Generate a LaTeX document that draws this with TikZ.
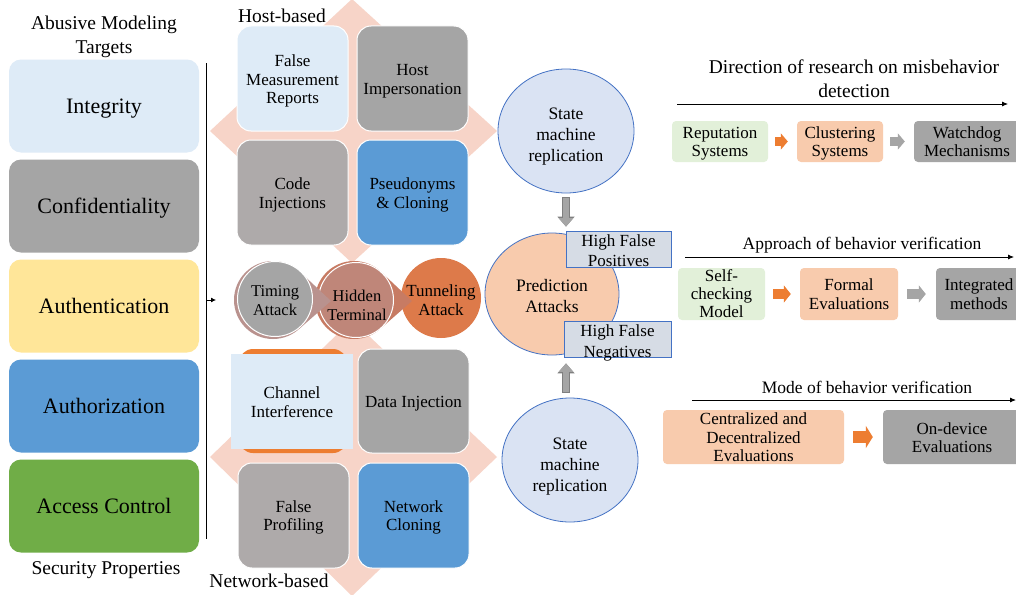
\documentclass[tikz,border=0pt]{standalone}
\usepackage{fontspec}
\setmainfont{Liberation Serif}
\usetikzlibrary{arrows.meta,calc,shapes.geometric}
\definecolor{lblue}{HTML}{DEEBF7}
\definecolor{mgray}{HTML}{A5A5A5}
\definecolor{dgray}{HTML}{7F7F7F}
\definecolor{wgray}{HTML}{AEAAAA}
\definecolor{yel}{HTML}{FFE699}
\definecolor{blu}{HTML}{5B9BD5}
\definecolor{grn}{HTML}{70AD47}
\definecolor{pinkbg}{HTML}{F7D4C8}
\definecolor{peach}{HTML}{F8CBAD}
\definecolor{lgreen}{HTML}{E2F0D9}
\definecolor{orng}{HTML}{ED7D31}
\definecolor{ellblue}{HTML}{DAE3F3}
\definecolor{bord}{HTML}{4472C4}
\definecolor{hfbox}{HTML}{D6DCE5}
\definecolor{tchev}{HTML}{B9928E}
\definecolor{hchev}{HTML}{C77B63}
\definecolor{hcirc}{HTML}{BF8679}
\definecolor{tunn}{HTML}{DD7A4A}
\newcommand\myTopS{\rule{0pt}{0.89em}}
\newcommand\myBotS{\rule[-0.22em]{0pt}{0.22em}}
\tikzset{
  every node/.append style={execute at begin node=\myTopS, execute at end node=\myBotS},
  prop/.style={rectangle, rounded corners=12, minimum width=190, minimum height=93, inner sep=0,
    font=\fontsize{22}{24}\selectfont},
  ttl/.style={align=center, inner sep=0, font=\fontsize{19.5}{23.5}\selectfont},
  ttlb/.style={align=center, inner sep=0, font=\fontsize{17.5}{20}\selectfont},
  cbox/.style={rectangle, rounded corners=14, minimum width=111, minimum height=105, inner sep=0,
    draw=white, line width=1},
  ctext/.style={align=center, inner sep=0, font=\fontsize{17}{18.8}\selectfont},
  circ/.style={circle, minimum size=75, inner sep=0, draw=white, line width=1},
  circt/.style={align=center, inner sep=0, font=\fontsize{16.5}{19.3}\selectfont},
  ell/.style={ellipse, minimum width=136, minimum height=124, inner sep=0, draw=bord, line width=0.8},
  ellt/.style={align=center, inner sep=0, font=\fontsize{17.5}{21}\selectfont},
  hf/.style={rectangle, minimum width=105, minimum height=36, inner sep=0, draw=bord, line width=1,
    fill=hfbox},
  hft/.style={align=center, inner sep=0, font=\fontsize{17}{20.3}\selectfont},
  fbox/.style={rectangle, rounded corners=4, inner sep=0},
  ftext/.style={align=center, inner sep=0, font=\fontsize{17}{18.4}\selectfont},
  garrowo/.style={line width=7.6, draw=dgray, -{Triangle[width=16.6,length=10]}},
  garrow/.style={line width=5.6, draw=mgray, -{Triangle[width=14,length=8.4]}},
  oarr/.style={draw=orng, -{Triangle[width=#1,length=7]}},
  grarr/.style={draw=mgray, -{Triangle[width=#1,length=7]}},
  thin/.style={line width=0.8, -{Latex[length=6,width=5]}}
}
\begin{document}
\begin{tikzpicture}[x=1pt,y=-1pt]
\useasboundingbox (0,0) rectangle (1016,594);
\fill[white] (0,0) rectangle (1016,594);
\clip (0,0) rectangle (1016,594);

% left column
\node[ttl] (abus) at (104,37) {Abusive Modeling\\Targets};
\node[prop, fill=lblue] (integ) at (104,106) {Integrity};
\node[prop, fill=mgray] (conf) at (104,206) {Confidentiality};
\node[prop, fill=yel] (authn) at (104,306) {Authentication};
\node[prop, fill=blu] (authz) at (104,406) {Authorization};
\node[prop, fill=grn] (acc) at (104,506) {Access Control};
\node[ttl] (secp) at (106,567.5) {Security Properties};

\coordinate (vt) at (206,63);
\coordinate (vb) at (206,539);
\coordinate (va) at (206,300);
\coordinate (vat) at (216,300);
\draw[line width=1] (vt) -- (vb);
\draw[line width=0.8, -{Latex[length=5,width=5]}] (va) -- (vat);

% background diamonds
\fill[pinkbg] (352,-1) -- (497,131) -- (352,263) -- (210,131) -- cycle;
\fill[pinkbg] (352,320) -- (497,457) -- (352,596) -- (210,457) -- cycle;

% host-based cluster
\node[ttl] (host) at (282,16) {Host-based};
\node[cbox, fill=lblue] (fmr) at (292.5,78.5) {};
\node[ctext] (fmrt) at ($(fmr)+(0,2.5)$) {False\\Measurement\\Reports};
\node[cbox, fill=mgray] (himp) at (412.5,78.5) {};
\node[ctext] (himpt) at ($(himp)+(0,2.8)$) {Host\\Impersonation};
\node[cbox, fill=wgray] (code) at (292.5,192.5) {};
\node[ctext] (codet) at ($(code)+(0,2.2)$) {Code\\Injections};
\node[cbox, fill=blu] (pseu) at (412.5,192.5) {};
\node[ctext] (pseut) at ($(pseu)+(0,2.2)$) {Pseudonyms\\\& Cloning};

% network-based cluster
\node[cbox, fill=orng, draw=none, minimum width=108, minimum height=104] (chbg) at (293,401) {};
\node[rectangle, fill=lblue, minimum width=122, minimum height=95, inner sep=0] (chan) at (292,401.5) {};
\node[ctext] (chant) at ($(chan)+(0,2.5)$) {Channel\\Interference};
\node[cbox, fill=mgray, minimum height=104] (dinj) at (413.5,401) {};
\node[ctext] (dinjt) at ($(dinj)+(0,1)$) {Data Injection};
\node[cbox, fill=wgray] (fprof) at (293.5,515.5) {};
\node[ctext] (fproft) at ($(fprof)+(0,2)$) {False\\Profiling};
\node[cbox, fill=blu] (ncl) at (413.5,515.5) {};
\node[ctext] (nclt) at ($(ncl)+(0,2)$) {Network\\Cloning};
\node[ttl] (netb) at (269,580.5) {Network-based};

% middle circle process
\node[circle, minimum size=80, inner sep=0, fill=tunn] (tun) at (441,298) {};
\node[circt, font=\fontsize{17}{19}\selectfont] (tunt) at ($(tun)+(0,3.5)$) {Tunneling\\Attack};
\coordinate (hc) at (354,300);
\coordinate (htip) at (412,301);
\fill[hchev] (hc) circle[radius=39];
\fill[hchev] ($(hc)+(48:39)$) -- (htip) -- ($(hc)+(-48:39)$) -- cycle;
\node[circ, fill=hcirc] (hid) at (356,300) {};
\node[circt, font=\fontsize{16.5}{18.7}\selectfont] (hidt) at (357,307) {Hidden\\Terminal};
\coordinate (tc) at (273,300);
\coordinate (ttip) at (331,301);
\fill[tchev] (tc) circle[radius=39];
\fill[tchev] ($(tc)+(48:39)$) -- (ttip) -- ($(tc)+(-48:39)$) -- cycle;
\node[circ, fill=mgray] (tim) at (275,299) {};
\node[circt] (timt) at ($(tim)+(0,3)$) {Timing\\Attack};

% right column ellipses
\node[ell, fill=ellblue] (smr1) at (566,131) {};
\node[ellt] (smr1t) at (566,136.5) {State\\machine\\replication};
\node[ell, fill=peach, minimum width=134, minimum height=122] (pred) at (552,294) {};
\node[ellt, font=\fontsize{17.5}{20.7}\selectfont] (predt) at (552,298) {Prediction\\Attacks};
\node[ell, fill=ellblue] (smr2) at (570,460) {};
\node[ellt] (smr2t) at (570,466.5) {State\\machine\\replication};
\node[hf] (hfp) at (618.5,249) {};
\node[hft] (hfpt) at ($(hfp)+(0,3.5)$) {High False\\Positives};
\node[hf, minimum width=107] (hfn) at (617.5,339) {};
\node[hft, font=\fontsize{17}{21}\selectfont] (hfnt) at ($(hfn)+(0,3.8)$) {High False\\Negatives};
\draw[garrowo, shorten <=4, shorten >=6] (smr1.south) -- (smr1.south |- pred.north);
\draw[garrow, shorten <=5, shorten >=6] (smr1.south) -- (smr1.south |- pred.north);
\draw[garrowo, shorten <=5, shorten >=8] (smr2.north -| smr1.south) -- (pred.south -| smr1.south);
\draw[garrow, shorten <=6, shorten >=8] (smr2.north -| smr1.south) -- (pred.south -| smr1.south);

% row 1
\node[ttl, font=\fontsize{19.5}{24}\selectfont] (dir) at (854,81) {Direction of research on misbehavior\\detection};
\coordinate (d1) at (677,104);
\coordinate (d2) at (1008,104);
\draw[thin] (d1) -- (d2);
\node[fbox, fill=lgreen, minimum width=96, minimum height=41] (rep) at (720,141.5) {};
\node[ftext] (rept) at ($(rep)+(0,2)$) {Reputation\\Systems};
\node[fbox, fill=peach, minimum width=86, minimum height=41] (clu) at (840,141.5) {};
\node[ftext] (clut) at ($(clu)+(0,2)$) {Clustering\\Systems};
\node[fbox, fill=mgray, minimum width=106, minimum height=41] (wd) at (967,141.5) {};
\node[ftext] (wdt) at ($(wd)+(0,2)$) {Watchdog\\Mechanisms};
\draw[oarr=16, line width=9, shorten <=7, shorten >=9] (rep) -- (clu);
\draw[grarr=16, line width=9, shorten <=7, shorten >=9] (clu) -- (wd);

% row 2
\node[ttlb] (appr) at (862,244) {Approach of behavior verification};
\coordinate (a1) at (685,257);
\coordinate (a2) at (1014,257);
\draw[thin] (a1) -- (a2);
\node[fbox, fill=lgreen, minimum width=87, minimum height=52] (self) at (721.5,294) {};
\node[ftext, font=\fontsize{17}{18}\selectfont] (selft) at ($(self)+(0,1.5)$) {Self-\\checking\\Model};
\node[fbox, fill=peach, minimum width=98, minimum height=52] (form) at (849,294) {};
\node[ftext] (formt) at ($(form)+(0,2)$) {Formal\\Evaluations};
\node[fbox, fill=mgray, minimum width=86, minimum height=52] (integr) at (979,294) {};
\node[ftext] (integrt) at ($(integr)+(0,2)$) {Integrated\\methods};
\draw[oarr=17, line width=10, shorten <=8, shorten >=9] (self) -- (form);
\draw[grarr=17, line width=10, shorten <=9, shorten >=10] (form) -- (integr);

% row 3
\node[ttlb] (mode) at (867,388) {Mode of behavior verification};
\coordinate (m1) at (692,400);
\coordinate (m2) at (1016,400);
\draw[thin] (m1) -- (m2);
\node[fbox, fill=peach, minimum width=181, minimum height=54] (cent) at (753.5,437) {};
\node[ftext, font=\fontsize{17}{18.5}\selectfont] (centt) at ($(cent)+(0,2)$) {Centralized and\\Decentralized\\Evaluations};
\node[fbox, fill=mgray, minimum width=138, minimum height=54] (ondev) at (952,437) {};
\node[ftext] (ondevt) at ($(ondev)+(0,2.5)$) {On-device\\Evaluations};
\draw[oarr=22, line width=12, shorten <=9, shorten >=10] (cent) -- (ondev);
\end{tikzpicture}
\end{document}
